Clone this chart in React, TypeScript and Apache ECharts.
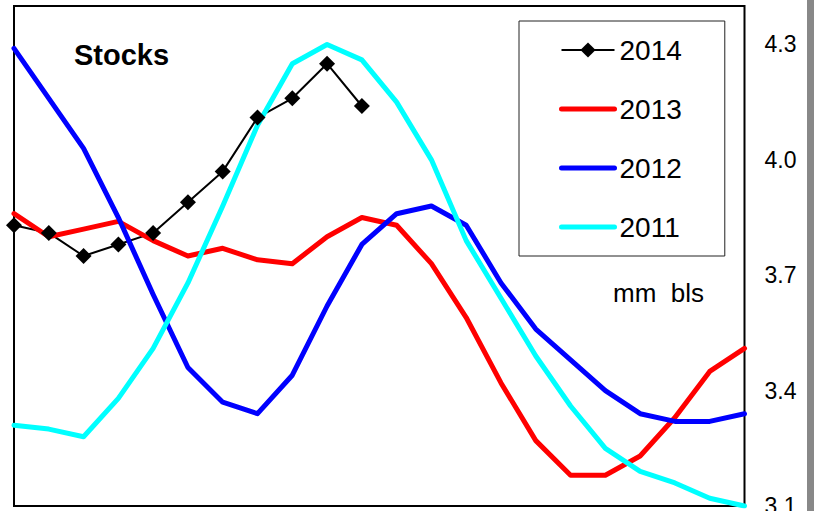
import React, { useEffect, useRef } from "react";
import * as echarts from "echarts";

const FONT = '"Liberation Sans", Arial, Helvetica, sans-serif';

const weeks = ["1","2","3","4","5","6","7","8","9","10","11","12","13","14","15","16","17","18","19","20","21","22"];

const s2014 = [3.83, 3.81, 3.75, 3.78, 3.81, 3.89, 3.97, 4.11, 4.16, 4.25, 4.14];
const s2013 = [3.86, 3.80, 3.82, 3.84, 3.79, 3.75, 3.77, 3.74, 3.73, 3.80, 3.85, 3.83, 3.73, 3.59, 3.42, 3.27, 3.18, 3.18, 3.23, 3.33, 3.45, 3.51];
const s2012 = [4.29, 4.16, 4.03, 3.85, 3.65, 3.46, 3.37, 3.34, 3.44, 3.62, 3.78, 3.86, 3.88, 3.83, 3.68, 3.56, 3.48, 3.40, 3.34, 3.32, 3.32, 3.34];
const s2011 = [3.31, 3.30, 3.28, 3.38, 3.51, 3.68, 3.88, 4.09, 4.25, 4.30, 4.26, 4.15, 4.00, 3.79, 3.64, 3.49, 3.36, 3.25, 3.19, 3.16, 3.12, 3.10];

const yTicks = [3.1, 3.4, 3.7, 4.0, 4.3];

export default function App() {
  const ref = useRef<HTMLDivElement>(null);
  useEffect(() => {
    if (!ref.current) return;
    const chart = echarts.init(ref.current, null, { renderer: "svg" });
    const colored = (name: string, color: string, data: number[]) => ({
      name,
      type: "line",
      data,
      symbol: "none",
      lineStyle: { color, width: 5, cap: "round", join: "round" },
      itemStyle: { color },
    });
    const thickLegend = { width: 5, cap: "round" };
    chart.setOption({
      animation: false,
      backgroundColor: "#fff",
      grid: {
        left: 14,
        top: 6,
        width: 730.5,
        height: 500,
        show: true,
        borderColor: "#000",
        borderWidth: 2,
        backgroundColor: "#fff",
        containLabel: false,
        outerBoundsMode: "none",
      },
      xAxis: {
        type: "category",
        data: weeks,
        boundaryGap: false,
        axisLine: { show: false },
        axisTick: { show: false },
        axisLabel: { show: false },
        splitLine: { show: false },
      },
      yAxis: {
        type: "value",
        position: "right",
        min: 3.1,
        max: 4.4,
        axisLine: { show: false },
        axisTick: { show: false },
        splitLine: { show: false },
        axisLabel: {
          customValues: yTicks,
          formatter: (v: number) => v.toFixed(1),
          fontSize: 23,
          fontFamily: FONT,
          color: "#000",
          margin: 20,
        },
      },
      legend: {
        orient: "vertical",
        left: 519,
        top: 21,
        padding: [14, 43, 14, 40],
        itemWidth: 53,
        itemHeight: 19,
        itemGap: 29,
        borderColor: "#222",
        borderWidth: 1,
        backgroundColor: "#fff",
        textStyle: { fontSize: 28, color: "#000", fontFamily: FONT, lineHeight: 30 },
        data: [
          { name: "2014", lineStyle: { width: 2 } },
          { name: "2013", itemStyle: { opacity: 0 }, lineStyle: thickLegend },
          { name: "2012", itemStyle: { opacity: 0 }, lineStyle: thickLegend },
          { name: "2011", itemStyle: { opacity: 0 }, lineStyle: thickLegend },
        ],
      },
      graphic: [
        {
          type: "text",
          left: 74,
          top: 40,
          style: { text: "Stocks", fontSize: 29, fontWeight: "bold", fontFamily: FONT, fill: "#000" },
        },
        {
          type: "text",
          left: 613,
          top: 280,
          style: { text: "mm  bls", fontSize: 26, fontFamily: FONT, fill: "#000" },
        },
        {
          type: "rect",
          shape: { x: 807, y: 0, width: 7, height: 511 },
          style: { fill: "#888" },
        },
      ],
      series: [
        {
          name: "2014",
          type: "line",
          data: s2014,
          symbol: "diamond",
          symbolSize: 16,
          showSymbol: true,
          lineStyle: { color: "#000", width: 2 },
          itemStyle: { color: "#000" },
        },
        colored("2013", "#ff0000", s2013),
        colored("2012", "#0000ff", s2012),
        colored("2011", "#00ffff", s2011),
      ],
    });
    return () => chart.dispose();
  }, []);
  return <div ref={ref} style={{ width: 814, height: 511, position: "absolute", left: 0, top: 0 }} />;
}
